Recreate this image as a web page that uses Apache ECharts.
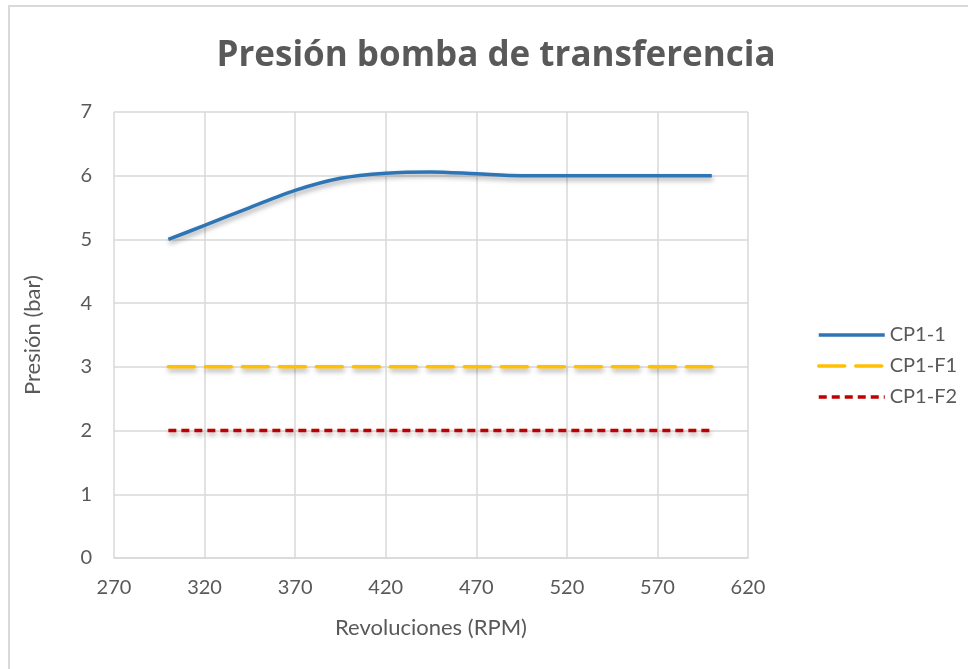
<!DOCTYPE html>
<html>
<head>
<meta charset="utf-8">
<script src="https://cdn.jsdelivr.net/npm/echarts@6/dist/echarts.min.js"></script>
<style>
html,body{margin:0;padding:0;background:#fff;overflow:hidden;}
#frame{position:absolute;left:8px;top:5px;width:980px;height:700px;border-top:2px solid #d9d9d9;border-left:2px solid #d9d9d9;}
#chart{position:absolute;left:0;top:0;width:968px;height:669px;}
</style>
</head>
<body>
<div id="frame"></div>
<div id="chart"></div>
<script>
const titleText = 'Presión bomba de transferencia';
const xName = 'Revoluciones (RPM)';
const yName = 'Presión (bar)';
const seriesNames = ['CP1-1', 'CP1-F1', 'CP1-F2'];
const rpm1 = [300, 320, 345, 370, 395, 420, 445, 470, 495, 550, 600];
const cp1_1 = [5.0, 5.22, 5.5, 5.77, 5.96, 6.04, 6.06, 6.03, 6.0, 6.0, 6.0];
const rpm = [300, 400, 500, 600];
const cp1_f1 = [3, 3, 3, 3];
const cp1_f2 = [2, 2, 2, 2];
const xMin = 270, xMax = 620, xStep = 50;
const yMin = 0, yMax = 7, yStep = 1;

const pairs = (xs, ys) => xs.map((x, i) => [x, ys[i]]);
const font = 'Lato, "Open Sans", sans-serif';
const shadow = {shadowColor: 'rgba(0,0,0,0.35)', shadowBlur: 5, shadowOffsetY: 3, shadowOffsetX: 1};

const chart = echarts.init(document.getElementById('chart'));
chart.setOption({
  animation: false,
  backgroundColor: 'transparent',
  title: {
    text: titleText, left: 491, top: 34, textAlign: 'center',
    textStyle: {fontFamily: '"Open Sans", sans-serif', fontSize: 35, fontWeight: 'bold', color: '#595959'}
  },
  legend: {
    orient: 'vertical', left: 812, top: 320, itemGap: 11,
    itemWidth: 66, itemHeight: 24,
    itemStyle: {opacity: 0},
    lineStyle: {width: 3.5},
    textStyle: {fontFamily: font, fontSize: 20, color: '#595959'},
    data: seriesNames
  },
  grid: {left: 114, right: 220, top: 112, bottom: 111, containLabel: false},
  xAxis: {
    type: 'value', min: xMin, max: xMax, interval: 10,
    name: xName, nameLocation: 'middle', nameGap: 59,
    nameTextStyle: {fontFamily: font, fontSize: 22, color: '#595959'},
    axisLine: {show: true, lineStyle: {color: '#d9d9d9', width: 1.5}},
    axisTick: {show: false},
    axisLabel: {
      fontFamily: font, fontSize: 20, color: '#595959', margin: 20,
      formatter: v => ((v - xMin) % xStep === 0 ? String(v) : '')
    },
    splitLine: {show: true, lineStyle: {color: ['#d9d9d9', 'rgba(0,0,0,0)', 'rgba(0,0,0,0)', 'rgba(0,0,0,0)', 'rgba(0,0,0,0)'], width: 1.5}}
  },
  yAxis: {
    type: 'value', min: yMin, max: yMax, interval: yStep,
    name: yName, nameLocation: 'middle', nameGap: 70, nameRotate: 90,
    nameTextStyle: {fontFamily: font, fontSize: 22, color: '#595959'},
    axisLine: {show: false}, axisTick: {show: false},
    axisLabel: {fontFamily: font, fontSize: 20, color: '#595959', margin: 22},
    splitLine: {show: true, lineStyle: {color: '#d9d9d9', width: 1.5}}
  },
  series: [
    {name: seriesNames[0], type: 'line', data: pairs(rpm1, cp1_1), smooth: 0.3, showSymbol: false, symbol: 'none',
     color: '#2e75b6', lineStyle: Object.assign({color: '#2e75b6', width: 3.5}, shadow)},
    {name: seriesNames[1], type: 'line', data: pairs(rpm, cp1_f1), showSymbol: false, symbol: 'none',
     color: '#ffc000', lineStyle: Object.assign({color: '#ffc000', width: 3.5, type: [26, 11], cap: 'round'}, shadow)},
    {name: seriesNames[2], type: 'line', data: pairs(rpm, cp1_f2), showSymbol: false, symbol: 'none',
     color: '#c00000', lineStyle: Object.assign({color: '#c00000', width: 3.5, type: [8, 5]}, shadow)}
  ]
});
</script>
</body>
</html>
